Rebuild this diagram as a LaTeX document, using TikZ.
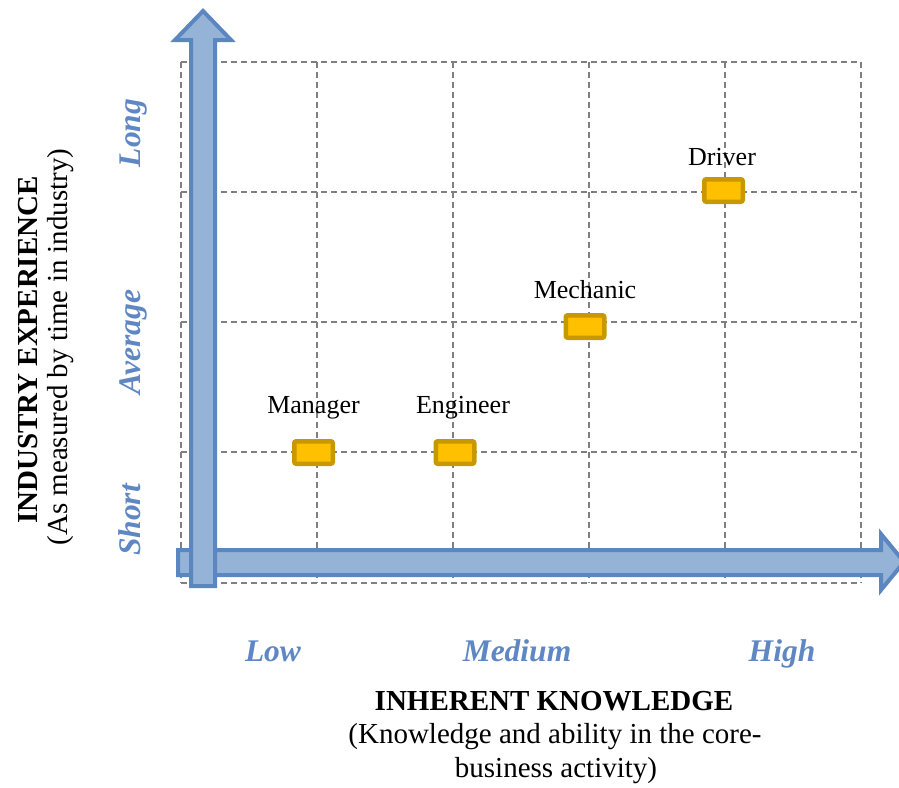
\documentclass[tikz,border=0pt]{standalone}
\usepackage{fontspec}
\setmainfont{Liberation Serif}
\begin{document}
\begin{tikzpicture}[x=1pt,y=-1pt,
  gridline/.style={draw=gray, line width=1.6pt, dash pattern=on 6pt off 4pt},
  bigarrow/.style={draw={rgb,255:red,91;green,134;blue,192}, fill={rgb,255:red,149;green,179;blue,215}, line width=4pt, line join=miter},
  marker/.style={draw={rgb,255:red,200;green,152;blue,0}, fill={rgb,255:red,255;green,192;blue,0}, line width=4.5pt, rounded corners=2pt, minimum width=38.5pt, minimum height=22.5pt, inner sep=0pt},
  lbl/.style={font=\fontsize{26}{30}\selectfont, anchor=base, inner sep=0pt},
  lvl/.style={font=\fontsize{31.5}{36}\selectfont\bfseries\itshape, text={rgb,255:red,95;green,135;blue,195}, anchor=base, inner sep=0pt},
  ttl/.style={font=\fontsize{29}{34}\selectfont, anchor=base, inner sep=0pt}]
\useasboundingbox (0,0) rectangle (899,787);
% grid
\foreach \x in {181,317,453,589,725,861} \draw[gridline] (\x,62) -- (\x,583);
\foreach \y in {62,192,322,452,583} \draw[gridline] (181,\y) -- (861,\y);
% horizontal arrow
\draw[bigarrow] (178,550) -- (881,550) -- (881,534) -- (904,562) -- (881,590) -- (881,575) -- (178,575) -- cycle;
% vertical arrow
\draw[bigarrow] (191,586) -- (191,40) -- (175,40) -- (203,11) -- (231,40) -- (215,40) -- (215,586) -- cycle;
% markers
\node[marker] (m1) at (313.5,452.5) {};
\node[marker] (m2) at (455,452.5) {};
\node[marker] (m3) at (585,326.5) {};
\node[marker] (m4) at (723.5,190.5) {};
\node[lbl] (t1) at (313.5,413) {Manager};
\node[lbl] (t2) at (463,413) {Engineer};
\node[lbl] (t3) at (585,298) {Mechanic};
\node[lbl] (t4) at (722,165) {Driver};
% level labels
\node[lvl, rotate=90] (long) at (140,133) {Long};
\node[lvl, rotate=90] (avg) at (140,342) {Average};
\node[lvl, rotate=90] (short) at (140,520) {Short};
\node[lvl] (low) at (273,661) {Low};
\node[lvl] (med) at (517,661) {Medium};
\node[lvl] (high) at (782,661) {High};
% titles
\node[ttl, rotate=90] (yt1) at (37,350) {\bfseries INDUSTRY EXPERIENCE};
\node[ttl, rotate=90] (yt2) at (67,347) {(As measured by time in industry)};
\node[ttl] (xt1) at (554,710) {\bfseries INHERENT KNOWLEDGE};
\node[ttl] (xt2) at (555,743) {(Knowledge and ability in the core-};
\node[ttl] (xt3) at (556,777) {business activity)};
\end{tikzpicture}
\end{document}
